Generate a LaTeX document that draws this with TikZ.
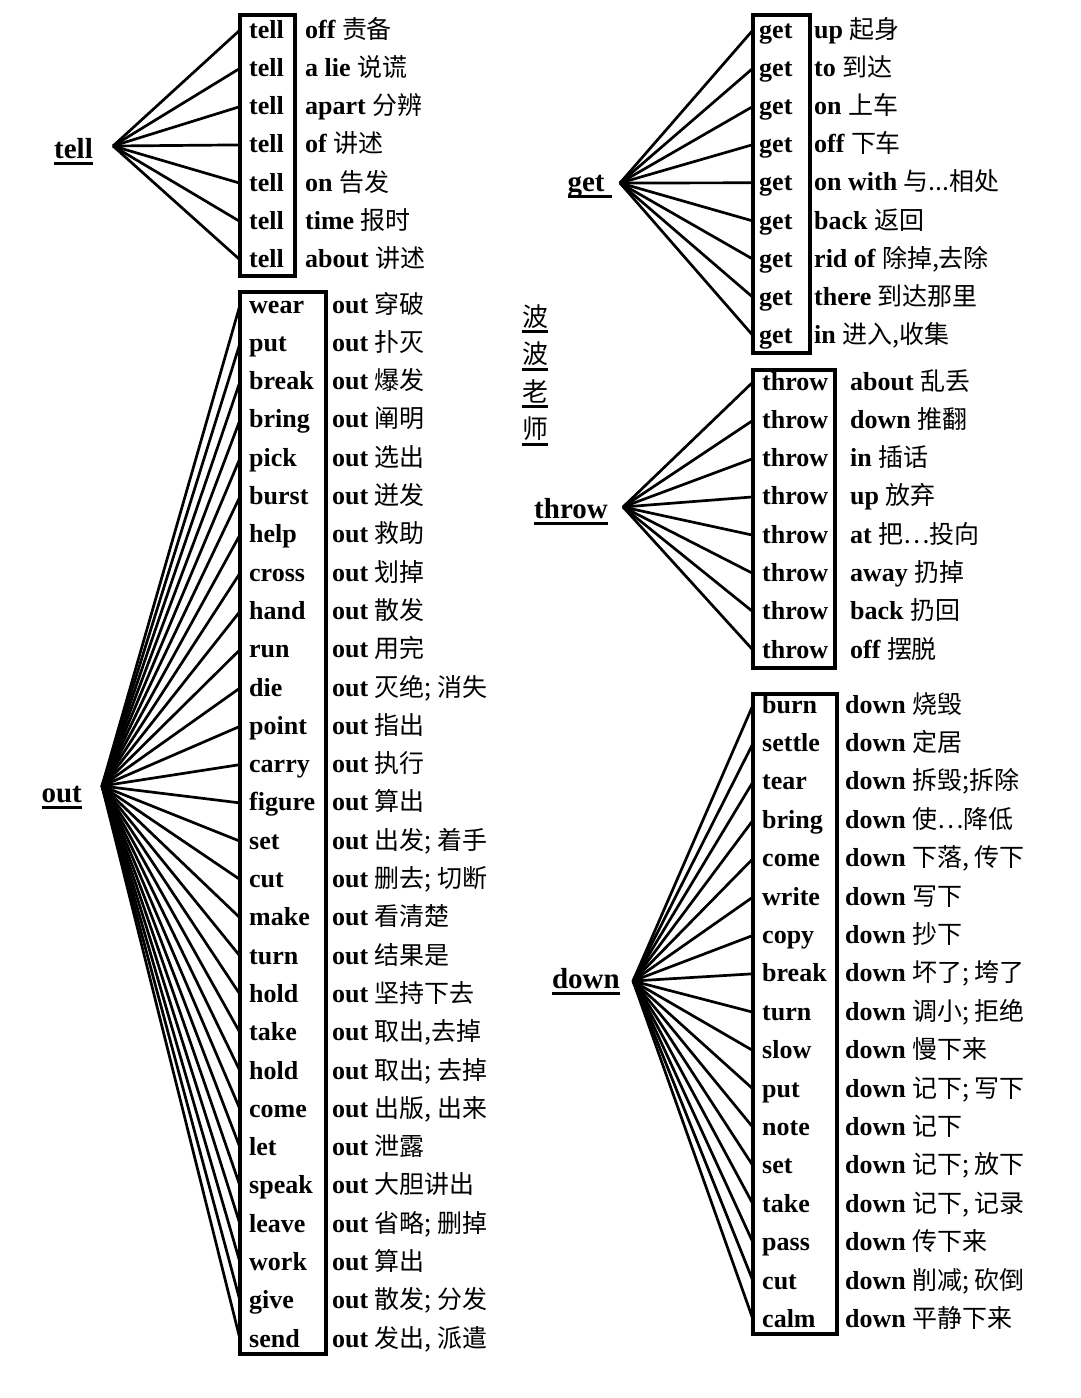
\documentclass[tikz,border=0pt]{standalone}
\usepackage{fontspec}
\setmainfont{Liberation Serif}
\newfontfamily\cjk[Scale=0.96]{Noto Sans CJK SC}
\newcommand\hubline[1]{\setbox0=\hbox{#1}\rlap{\rule[-7pt]{\wd0}{3pt}}\box0}

\tikzset{
  verb/.style={anchor=base west, inner ysep=0pt, inner xsep=9pt, text height=20pt, text depth=4pt,
    font=\bfseries\fontsize{26}{30}\selectfont},
  gloss/.style={anchor=base west, inner sep=0pt, font=\fontsize{26}{30}\selectfont},
  hub/.style={anchor=base east, inner sep=0pt, font=\bfseries\fontsize{29}{34}\selectfont},
  teacher/.style={anchor=base west, inner sep=0pt, font=\cjk\fontsize{27}{30}\selectfont},
  spoke/.style={line width=2.7pt},
  frame/.style={line width=3.4pt}
}

\begin{document}
\begin{tikzpicture}[x=1pt, y=-1pt]
  \path[fill=white] (0,0) rectangle (1080,1398);
  \useasboundingbox (0,0) rectangle (1080,1398);

  % tell
  \coordinate (tellhub) at (113,146);
  \node[hub] (telllabel) at (93,158) {\hubline{tell}};
  \draw[frame] (240,15) rectangle (295,276);
  \foreach \pv/\zh [count=\i] in {off/责备, a lie/说谎, apart/分辨, of/讲述, on/告发, time/报时, about/讲述}
  {
    \pgfmathsetmacro\y{38+(\i-1)*38.3}
    \node[verb] (tell\i) at (240,\y) {tell};
    \node[gloss] (tellg\i) at (305,\y) {{\bfseries \pv} {\cjk \zh}};
    \draw[spoke] (tellhub) -- (tell\i.west);
  }

  % out
  \coordinate (outhub) at (102,786);
  \node[hub] (outlabel) at (82,802) {\hubline{out}};
  \draw[frame] (240,292) rectangle (326,1354);
  \foreach \vb/\zh [count=\i] in {wear/穿破, put/扑灭, break/爆发, bring/阐明, pick/选出, burst/迸发,
      help/救助, cross/划掉, hand/散发, run/用完, die/{灭绝; 消失}, point/指出, carry/执行,
      figure/算出, set/{出发; 着手}, cut/{删去; 切断}, make/看清楚, turn/结果是, hold/坚持下去,
      take/{取出,去掉}, hold/{取出; 去掉}, come/{出版, 出来}, let/泄露, speak/大胆讲出,
      leave/{省略; 删掉}, work/算出, give/{散发; 分发}, send/{发出, 派遣}}
  {
    \pgfmathsetmacro\y{313+(\i-1)*38.3}
    \node[verb] (out\i) at (240,\y) {\vb};
    \node[gloss] (outg\i) at (332,\y) {{\bfseries out} {\cjk \zh}};
    \draw[spoke] (outhub) -- (out\i.west);
  }

  % get
  \coordinate (gethub) at (620,183);
  \node[hub] (getlabel) at (612,191) {\hubline{get\ }};
  \draw[frame] (753,15) rectangle (810,353);
  \foreach \pv/\zh [count=\i] in {up/起身, to/到达, on/上车, off/下车, on with/{与...相处}, back/返回,
      rid of/{除掉,去除}, there/到达那里, in/{进入,收集}}
  {
    \pgfmathsetmacro\y{38+(\i-1)*38.2}
    \node[verb, inner xsep=6pt] (get\i) at (753,\y) {get};
    \node[gloss] (getg\i) at (814,\y) {{\bfseries \pv} {\cjk \zh}};
    \draw[spoke] (gethub) -- (get\i.west);
  }

  % throw
  \coordinate (throwhub) at (623,507);
  \node[hub] (throwlabel) at (608,518) {\hubline{throw}};
  \draw[frame] (753,370) rectangle (835,668);
  \foreach \pv/\zh [count=\i] in {about/乱丢, down/推翻, in/插话, up/放弃, at/{把…投向}, away/扔掉,
      back/扔回, off/摆脱}
  {
    \pgfmathsetmacro\y{390+(\i-1)*38.3}
    \node[verb] (throw\i) at (753,\y) {throw};
    \node[gloss] (throwg\i) at (850,\y) {{\bfseries \pv} {\cjk \zh}};
    \draw[spoke] (throwhub) -- (throw\i.west);
  }

  % down
  \coordinate (downhub) at (633,981);
  \node[hub] (downlabel) at (620,988) {\hubline{down}};
  \draw[frame] (753,694) rectangle (837,1334);
  \foreach \vb/\zh [count=\i] in {burn/烧毁, settle/定居, tear/{拆毁;拆除}, bring/{使…降低},
      come/{下落, 传下}, write/写下, copy/抄下, break/{坏了; 垮了}, turn/{调小; 拒绝}, slow/慢下来,
      put/{记下; 写下}, note/记下, set/{记下; 放下}, take/{记下, 记录}, pass/传下来,
      cut/{削减; 砍倒}, calm/平静下来}
  {
    \pgfmathsetmacro\y{713+(\i-1)*38.4}
    \node[verb] (down\i) at (753,\y) {\vb};
    \node[gloss] (downg\i) at (845,\y) {{\bfseries down} {\cjk \zh}};
    \draw[spoke] (downhub) -- (down\i.west);
  }

  % side note
  \foreach \ch [count=\i] in {波,波,老,师}
  {
    \pgfmathsetmacro\y{326+(\i-1)*37.5}
    \node[teacher] (tag\i) at (522,\y) {\hubline{\ch}};
  }
\end{tikzpicture}
\end{document}
